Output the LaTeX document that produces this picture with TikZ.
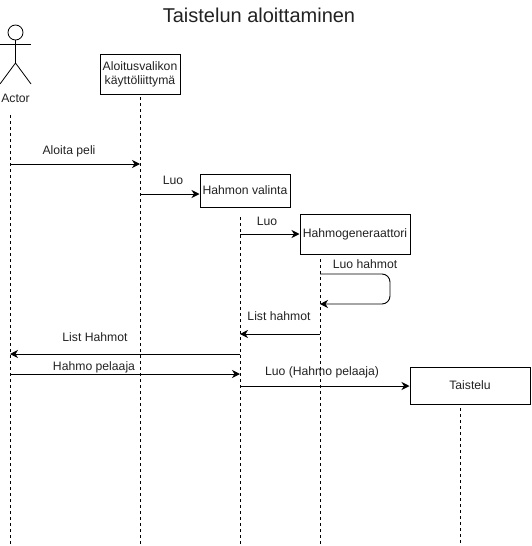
\documentclass[tikz,border=0pt]{standalone}
\usepackage{fontspec}
\setmainfont{Liberation Sans}
\usetikzlibrary{arrows.meta}
\definecolor{labelgray}{HTML}{222222}
\tikzset{
	every node/.style={text=labelgray,font=\fontsize{12.2}{14}\selectfont},
	box/.style={draw=black,fill=white,line width=1pt,inner sep=0pt,align=center},
	lifeline/.style={draw,line width=.8pt,dash pattern=on 3pt off 3pt},
	msg/.style={->,draw,line width=.9pt,>={Stealth[length=8pt,width=8pt,inset=2.5pt]}},
	limb/.style={draw,line width=.8pt},
}
\begin{document}
\begin{tikzpicture}[x=1pt,y=-1pt]
		\useasboundingbox (0,0) rectangle (531,546);

		\node[font=\fontsize{20}{24}\selectfont] (title) at (259,15) {Taistelun aloittaminen};

		% actor
		\node[draw=black,circle,line width=.8pt,minimum size=15pt,inner sep=0pt] (head) at (15.5,32.5) {};
		\coordinate (hip) at (15.5,63);
		\coordinate (armL) at (0,44);
		\coordinate (armR) at (31,44);
		\coordinate (legL) at (0,84);
		\coordinate (legR) at (31,84);
		\path[limb] (head) -- (hip);
		\path[limb] (armL) -- (armR);
		\path[limb] (legL) -- (hip) -- (legR);
		\node (actor) at (15.5,98.5) {Actor};

		% boxes
		\node[box,minimum width=80pt,minimum height=40pt] (valikko) at (140,74) {Aloitusvalikon\\käyttöliittymä};
		\node[box,minimum width=90pt,minimum height=33pt] (valinta) at (245,190.5) {Hahmon valinta};
		\node[box,minimum width=110pt,minimum height=40pt] (generaattori) at (355,234) {Hahmogeneraattori};
		\node[box,minimum width=120pt,minimum height=37pt] (taistelu) at (470,385.5) {Taistelu};

		% lifelines
		\coordinate (actorTop) at (10,115);
		\coordinate (actorEnd) at (10,545);
		\coordinate (valikkoTop) at (140,97);
		\coordinate (valikkoEnd) at (140,545);
		\coordinate (valintaTop) at (240,217);
		\coordinate (valintaEnd) at (240,545);
		\coordinate (generTop) at (320,259);
		\coordinate (generEnd) at (320,545);
		\coordinate (taisteluTop) at (460,408);
		\coordinate (taisteluEnd) at (460,545);
		\path[lifeline] (actorTop) -- (actorEnd);
		\path[lifeline] (valikkoTop) -- (valikkoEnd);
		\path[lifeline] (valintaTop) -- (valintaEnd);
		\path[lifeline] (generTop) -- (generEnd);
		\path[lifeline] (taisteluTop) -- (taisteluEnd);

		% messages
		\coordinate (m1a) at (10,164);
		\coordinate (m1b) at (140,164);
		\coordinate (m2a) at (140,194);
		\coordinate (m3a) at (240,234);
		\coordinate (m4a) at (320,274);
		\coordinate (m4b) at (320,304);
		\coordinate (m5a) at (320,334);
		\coordinate (m5b) at (240,334);
		\coordinate (m6a) at (240,354);
		\coordinate (m6b) at (10,354);
		\coordinate (m7a) at (10,374);
		\coordinate (m7b) at (240,374);
		\coordinate (m8a) at (240,386);

		\path[msg] (m1a) -- (m1b);
		\path[msg] (m2a) -- (m2a -| valinta.west);
		\path[msg] (m3a) -- (m3a -| generaattori.west);
		\path[msg,rounded corners=8pt] (m4a) -- (390,274) -- (390,304) -- (m4b);
		\path[msg] (m5a) -- (m5b);
		\path[msg] (m6a) -- (m6b);
		\path[msg] (m7a) -- (m7b);
		\path[msg] (m8a) -- (m8a -| taistelu.west);

		% labels
		\node (aloita) at (69,151) {Aloita peli};
		\node (luoA) at (173,180) {Luo};
		\node (luoB) at (267,221) {Luo};
		\node (luoC) at (365,264) {Luo hahmot};
		\node (listA) at (279,316) {List hahmot};
		\node (listB) at (95,337) {List Hahmot};
		\node (pelaaja) at (94,367) {Hahmo pelaaja};
		\node (luoD) at (322,372) {Luo (Hahmo pelaaja)};
\end{tikzpicture}
\end{document}
